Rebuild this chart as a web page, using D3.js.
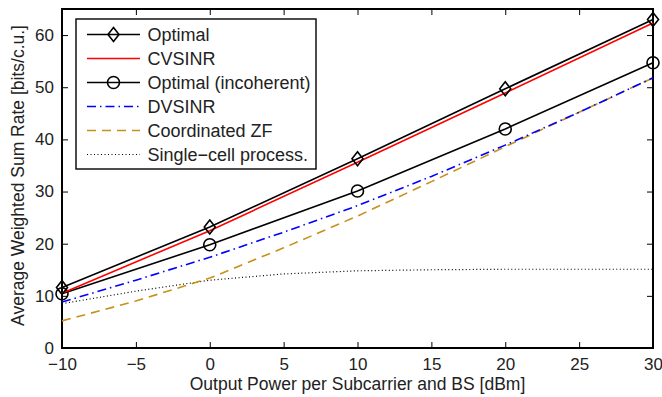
<!DOCTYPE html>
<html>
<head>
<meta charset="utf-8">
<script src="https://cdn.jsdelivr.net/npm/d3@7"></script>
<style>
body { margin: 0; background: #fff; }
text { font-family: "Liberation Sans", Arial, sans-serif; fill: #222; }
</style>
</head>
<body>
<div id="chart"></div>
<script>
var powerCoarse = [-10, 0, 10, 20, 30];
var powerFine = [-10, -5, 0, 5, 10, 15, 20, 25, 30];

var optimal = [11.6, 23.2, 36.3, 49.7, 63.0];
var cvsinr = [10.5, 22.5, 35.6, 48.9, 62.3];
var optimalIncoh = [10.4, 19.8, 30.1, 42.0, 54.7];
var dvsinr = [8.8, 13.0, 17.4, 22.2, 27.3, 32.9, 38.9, 45.2, 51.8];
var coordZF = [5.2, 9.0, 13.4, 19.2, 25.3, 31.9, 38.6, 45.2, 51.8];
var singleCell = [8.5, 10.9, 13.0, 14.2, 14.8, 15.0, 15.1, 15.1, 15.1];

var xTicks = [-10, -5, 0, 5, 10, 15, 20, 25, 30];
var yTicks = [0, 10, 20, 30, 40, 50, 60];

var width = 662, height = 397;
var margin = {left: 62, right: 9, top: 9, bottom: 49};

var svg = d3.select("#chart").append("svg")
  .attr("width", width)
  .attr("height", height);

var x = d3.scaleLinear().domain([-10, 30]).range([margin.left, width - margin.right]);
var y = d3.scaleLinear().domain([0, 65]).range([height - margin.bottom, margin.top]);

var fmt = function(d) { return d < 0 ? "\u2212" + Math.abs(d) : "" + d; };

// axes, ticks inward on all four sides
function styleAxis(g) {
  g.select(".domain").remove();
  g.selectAll(".tick line").attr("stroke", "#000").attr("stroke-width", 1);
  g.selectAll(".tick text").style("font-size", "17px").attr("fill", "#222");
}

svg.append("g")
  .attr("transform", "translate(0," + y(0) + ")")
  .call(d3.axisBottom(x).tickValues(xTicks).tickSize(-6).tickPadding(10).tickFormat(fmt))
  .call(styleAxis);

svg.append("g")
  .attr("transform", "translate(0," + y(65) + ")")
  .call(d3.axisTop(x).tickValues(xTicks).tickSize(-6).tickFormat(""))
  .call(styleAxis);

svg.append("g")
  .attr("transform", "translate(" + x(-10) + ",0)")
  .call(d3.axisLeft(y).tickValues(yTicks).tickSize(-6).tickPadding(8))
  .call(styleAxis);

svg.append("g")
  .attr("transform", "translate(" + x(30) + ",0)")
  .call(d3.axisRight(y).tickValues(yTicks).tickSize(-6).tickFormat(""))
  .call(styleAxis);

svg.append("rect")
  .attr("x", x(-10)).attr("y", y(65))
  .attr("width", x(30) - x(-10)).attr("height", y(0) - y(65))
  .attr("fill", "none").attr("stroke", "#000").attr("stroke-width", 2);

var line = d3.line().x(function(d) { return x(d[0]); }).y(function(d) { return y(d[1]); });

var series = [
  {name: "Single\u2212cell process.", xs: powerFine, ys: singleCell, color: "#000", dash: "1,2.5", w: 1.2},
  {name: "Coordinated ZF", xs: powerFine, ys: coordZF, color: "#c8901a", dash: "9,6", w: 1.6},
  {name: "DVSINR", xs: powerFine, ys: dvsinr, color: "#0000ff", dash: "9,4,1.5,4", w: 1.6},
  {name: "Optimal (incoherent)", xs: powerCoarse, ys: optimalIncoh, color: "#000", dash: null, w: 1.6, marker: "circle"},
  {name: "CVSINR", xs: powerCoarse, ys: cvsinr, color: "#ff0000", dash: null, w: 1.6},
  {name: "Optimal", xs: powerCoarse, ys: optimal, color: "#000", dash: null, w: 1.6, marker: "diamond"}
];

var plot = svg.append("g");

function drawMarker(g, type, cx, cy) {
  if (type === "circle") {
    g.append("circle").attr("cx", cx).attr("cy", cy).attr("r", 6)
      .attr("fill", "none").attr("stroke", "#000").attr("stroke-width", 1.6);
  } else if (type === "diamond") {
    g.append("path")
      .attr("d", "M" + cx + "," + (cy - 7) + "L" + (cx + 5.5) + "," + cy + "L" + cx + "," + (cy + 7) + "L" + (cx - 5.5) + "," + cy + "Z")
      .attr("fill", "none").attr("stroke", "#000").attr("stroke-width", 1.6);
  }
}

series.forEach(function(s) {
  var pts = s.xs.map(function(v, i) { return [v, s.ys[i]]; });
  plot.append("path")
    .attr("d", line(pts))
    .attr("fill", "none")
    .attr("stroke", s.color)
    .attr("stroke-width", s.w)
    .attr("stroke-dasharray", s.dash);
  if (s.marker) {
    pts.forEach(function(p) { drawMarker(plot, s.marker, x(p[0]), y(p[1])); });
  }
});

// legend
var legendOrder = series.slice().reverse();
var lg = svg.append("g");
lg.append("rect")
  .attr("x", 76).attr("y", 19).attr("width", 240).attr("height", 150)
  .attr("fill", "#fff").attr("stroke", "#000").attr("stroke-width", 1.4);

legendOrder.forEach(function(s, i) {
  var ly = 34.5 + i * 24;
  lg.append("line")
    .attr("x1", 87).attr("x2", 140).attr("y1", ly).attr("y2", ly)
    .attr("stroke", s.color).attr("stroke-width", s.w)
    .attr("stroke-dasharray", s.dash);
  if (s.marker) drawMarker(lg, s.marker, 113.5, ly);
  lg.append("text")
    .attr("x", 147.5).attr("y", ly + 6.5)
    .style("font-size", "18px")
    .text(s.name);
});

// axis labels
svg.append("text")
  .attr("x", (x(-10) + x(30)) / 2).attr("y", 390)
  .attr("text-anchor", "middle")
  .style("font-size", "17.5px")
  .text("Output Power per Subcarrier and BS [dBm]");

svg.append("text")
  .attr("transform", "translate(24," + ((y(0) + y(65)) / 2 - 3) + ") rotate(-90)")
  .attr("text-anchor", "middle")
  .style("font-size", "17.5px")
  .text("Average Weighted Sum Rate [bits/c.u.]");
</script>
</body>
</html>
